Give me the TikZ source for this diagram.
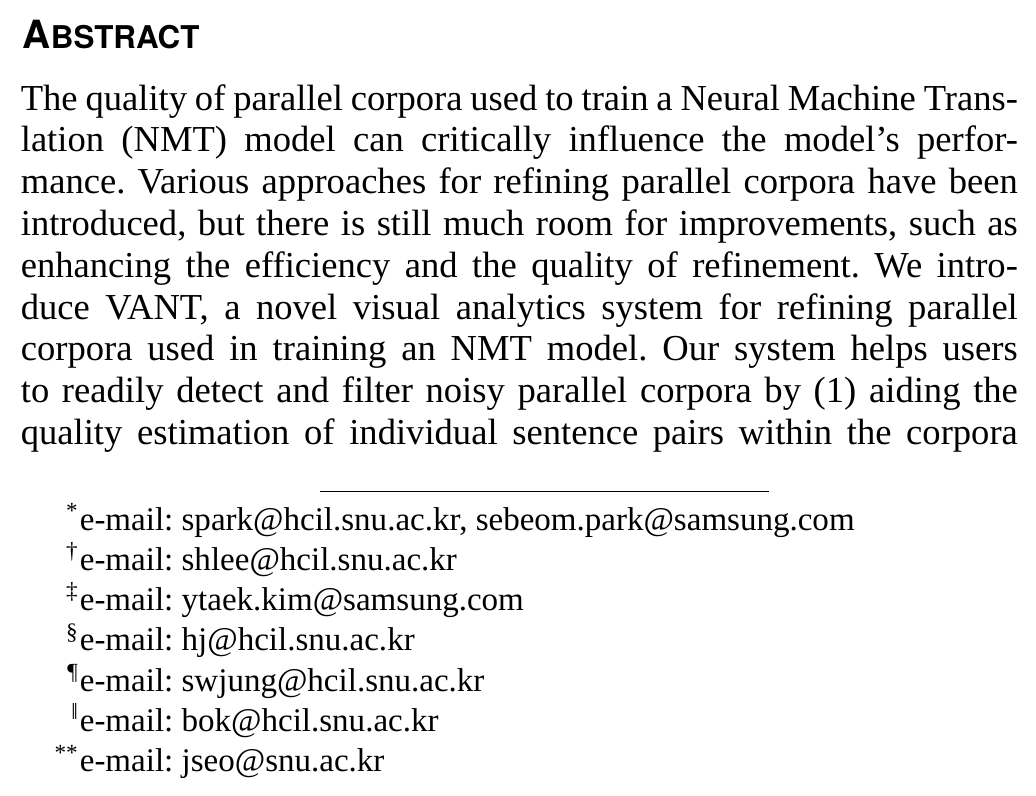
\documentclass[tikz,border=0pt]{standalone}
\usepackage{fontspec}
\setmainfont{Liberation Serif}
\newfontfamily\headfont{TeX Gyre Heros}
\usetikzlibrary{positioning}

\begin{document}
\begin{tikzpicture}[x=0.23923pt,y=-0.23923pt]
  \tikzset{HeadStyle/.style = {anchor = base west, inner sep = 0, font = \headfont\bfseries\fontsize{9.3}{10}\selectfont}};
  \tikzset{BodyStyle/.style = {anchor = base west, inner sep = 0, text width = 238.5pt, align = justify, font = \fontsize{8.75}{10}\selectfont}};
  \tikzset{NoteStyle/.style = {anchor = base west, inner sep = 0, font = \fontsize{7.9}{9.65}\selectfont\frenchspacing}};

  \useasboundingbox (0,0) rectangle (1036,795);

  \node[HeadStyle] (abstract head) at (22,48) {A{\fontsize{7.5}{8}\selectfont BSTRACT}};
  \node[BodyStyle] (abstract body) at (20,110) {\frenchspacing\parfillskip=0pt\relax
    \spaceskip=.25em plus .2em minus .12em\relax
    The quality of parallel corpora used to train a Neural Machine Trans-\linebreak
    lation (NMT) model can critically influence the model's perfor-\linebreak
    mance. Various approaches for refining parallel corpora have been\linebreak
    introduced, but there is still much room for improvements, such as\linebreak
    enhancing the efficiency and the quality of refinement. We intro-\linebreak
    duce VANT, a novel visual analytics system for refining parallel\linebreak
    corpora used in training an NMT model. Our system helps users\linebreak
    to readily detect and filter noisy parallel corpora by (1) aiding the\linebreak
    quality estimation of individual sentence pairs within the corpora\par};

  % footnote rule
  \coordinate (rule start) at (320,491);
  \coordinate (rule end) at (769,491);
  \draw[line width = 0.25pt] (rule start) -- (rule end);

  \foreach \sym/\addr [count = \i from 0] in {
      */{spark@hcil.snu.ac.kr, sebeom.park@samsung.com},
      †/{shlee@hcil.snu.ac.kr},
      ‡/{ytaek.kim@samsung.com},
      §/{hj@hcil.snu.ac.kr},
      ¶/{swjung@hcil.snu.ac.kr},
      ‖/{bok@hcil.snu.ac.kr},
      **/{jseo@snu.ac.kr}}
    \node[NoteStyle] (note \i) at (79,{530+40.3*\i}) {\llap{\textsuperscript{\sym}}e-mail: \addr};
\end{tikzpicture}
\end{document}
